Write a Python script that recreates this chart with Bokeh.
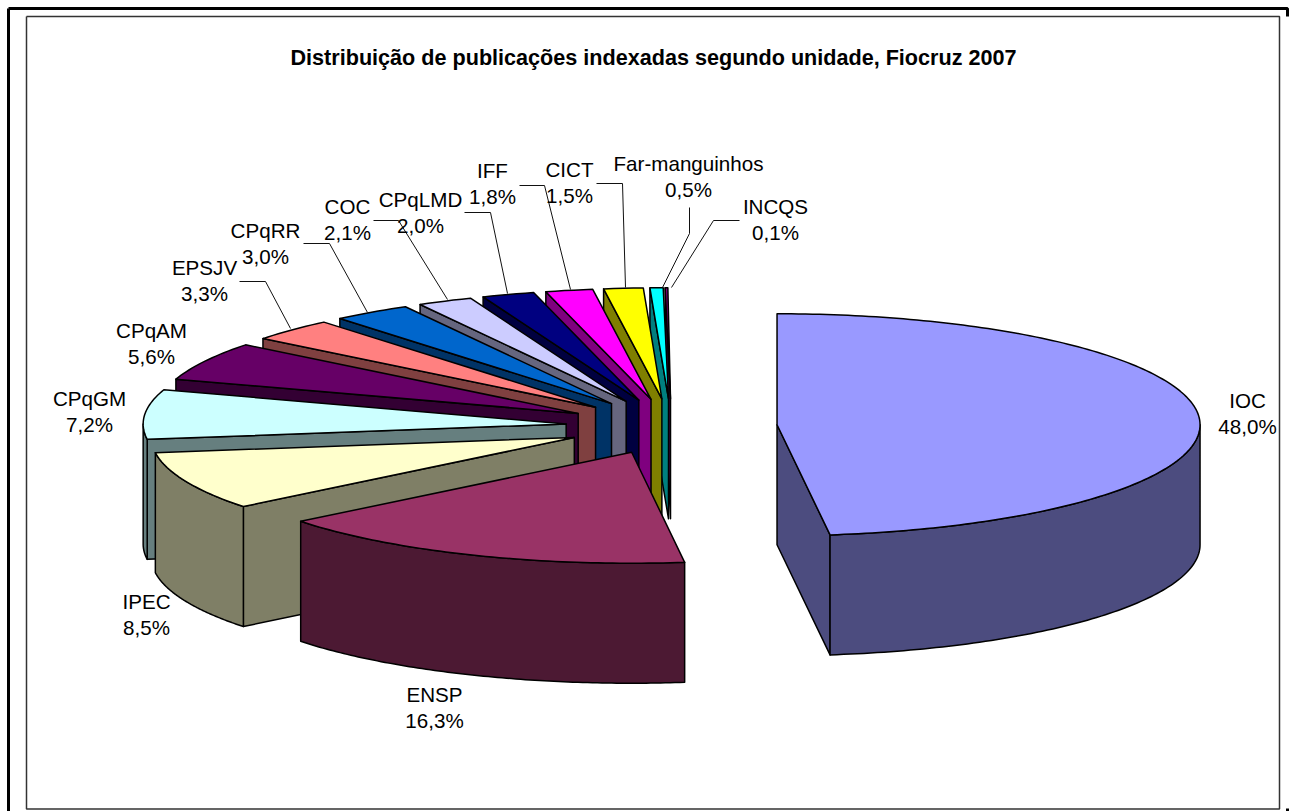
import numpy as np
from bokeh.plotting import figure
from bokeh.models import ColumnDataSource, Range1d
from bokeh.core.properties import value
from bokeh.embed import file_html
from bokeh.resources import INLINE

TITLE = "Distribuição de publicações indexadas segundo unidade, Fiocruz 2007"
units = ["IOC", "ENSP", "IPEC", "CPqGM", "CPqAM", "EPSJV", "CPqRR", "COC",
         "CPqLMD", "IFF", "CICT", "Far-manguinhos", "INCQS"]
shares = [48.0, 16.3, 8.5, 7.2, 5.6, 3.3, 3.0, 2.1, 2.0, 1.8, 1.5, 0.5, 0.1]
top_colors = ["#9999FF", "#993366", "#FFFFCC", "#CCFFFF", "#660066", "#FF8080", "#0066CC",
              "#CCCCFF", "#000080", "#FF00FF", "#FFFF00", "#00FFFF", "#800080"]
side_colors = ["#4C4C7F", "#4C1933", "#7F7F66", "#667F7F", "#330033", "#7F4040", "#003366",
               "#66667F", "#000040", "#7F007F", "#7F7F00", "#007F7F", "#400040"]

# layout (page pixels)
CX, CY = 671.0, 426.0
RX, RY = 423.0, 111.0
DEPTH = 120.0
EXPLODE = 0.25
label_x = [1247, 434, 146, 89, 151, 204, 265, 347, 420, 492, 569, 688, 775]
label_y = [400, 694, 601, 398, 330, 267, 230, 206, 199, 170, 169, 163, 206]
LINE_GAP = 26
leaders = {
    "COC": ([373, 398, 447], [220, 220, 299]),
    "CPqRR": ([303, 329, 367], [243, 243, 312]),
    "EPSJV": ([239, 265, 290], [281, 281, 328]),
    "CPqLMD": ([464, 490, 507], [212, 212, 293]),
    "IFF": ([519, 544, 570], [185, 185, 289]),
    "CICT": ([596, 622, 625], [183, 183, 287]),
    "Far": ([689, 689, 662], [207, 233, 287]),
    "INCQS": ([739, 713, 671], [220, 220, 287]),
}

W, H = 1293, 811
p = figure(width=W, height=H, output_backend="svg", toolbar_location=None,
           x_range=Range1d(0, W), y_range=Range1d(H, 0),
           min_border=0, outline_line_color=None, background_fill_color="white")
p.axis.visible = False
p.grid.visible = False


def rim(a, ox, oy):
    return ox + RX * np.sin(a), oy - RY * np.cos(a)


edges = np.radians(np.concatenate([[0], np.cumsum(shares)]) * 3.6)
px, py, pf = [], [], []
for i in range(len(units) - 1, -1, -1):
    a0, a1 = edges[i], edges[i + 1]
    mid = (a0 + a1) / 2
    ox = CX + EXPLODE * RX * np.sin(mid)
    oy = CY - EXPLODE * RY * np.cos(mid)
    # radial cut faces turned to the viewer
    for a, seen in ((a0, np.sin(a0) < -1e-9), (a1, np.sin(a1) > 1e-9)):
        if seen:
            rx, ry = rim(a, ox, oy)
            px.append([ox, rx, rx, ox])
            py.append([oy, ry, ry + DEPTH, oy + DEPTH])
            pf.append(side_colors[i])
    # outer wall: front half of the rim only
    s0, s1 = max(a0, np.pi / 2), min(a1, 3 * np.pi / 2)
    if s1 > s0:
        t = np.linspace(s0, s1, 90)
        rx, ry = rim(t, ox, oy)
        px.append(np.r_[rx, rx[::-1]].tolist())
        py.append(np.r_[ry, ry[::-1] + DEPTH].tolist())
        pf.append(side_colors[i])
    # top face
    t = np.linspace(a0, a1, max(4, int((a1 - a0) * 60)))
    rx, ry = rim(t, ox, oy)
    px.append(np.r_[ox, rx].tolist())
    py.append(np.r_[oy, ry].tolist())
    pf.append(top_colors[i])

p.patches("x", "y", fill_color="c", line_color="black", line_width=1.5, line_join="round",
          source=ColumnDataSource(dict(x=px, y=py, c=pf)))

# leader lines
p.multi_line([v[0] for v in leaders.values()], [v[1] for v in leaders.values()],
             line_color="#111111", line_width=1)

# labels
font = value("Liberation Sans")
names_y = label_y
pct_y = [y + LINE_GAP for y in label_y]
pct = [f"{s:.1f}%".replace(".", ",") for s in shares]
p.text(label_x + label_x, names_y + pct_y, text=units + pct, text_font=font,
       text_font_size="20.6px", text_color="black", text_align="center", text_baseline="middle")
p.text([653], [57], text=[TITLE], text_font=font, text_font_size="21.6px",
       text_font_style="bold", text_color="black", text_align="center", text_baseline="middle")

# frames
p.multi_line([[8, 1287, 1287], [8, 8], [1287, 1287]], [[8, 8, 16], [8, 811], [808, 811]],
             line_color="black", line_width=3)
p.multi_line([[26, 1279, 1279, 26, 26]], [[16, 16, 808.5, 808.5, 16]],
             line_color="#333333", line_width=1.5)

open("out.html", "w").write(file_html(p, INLINE))
